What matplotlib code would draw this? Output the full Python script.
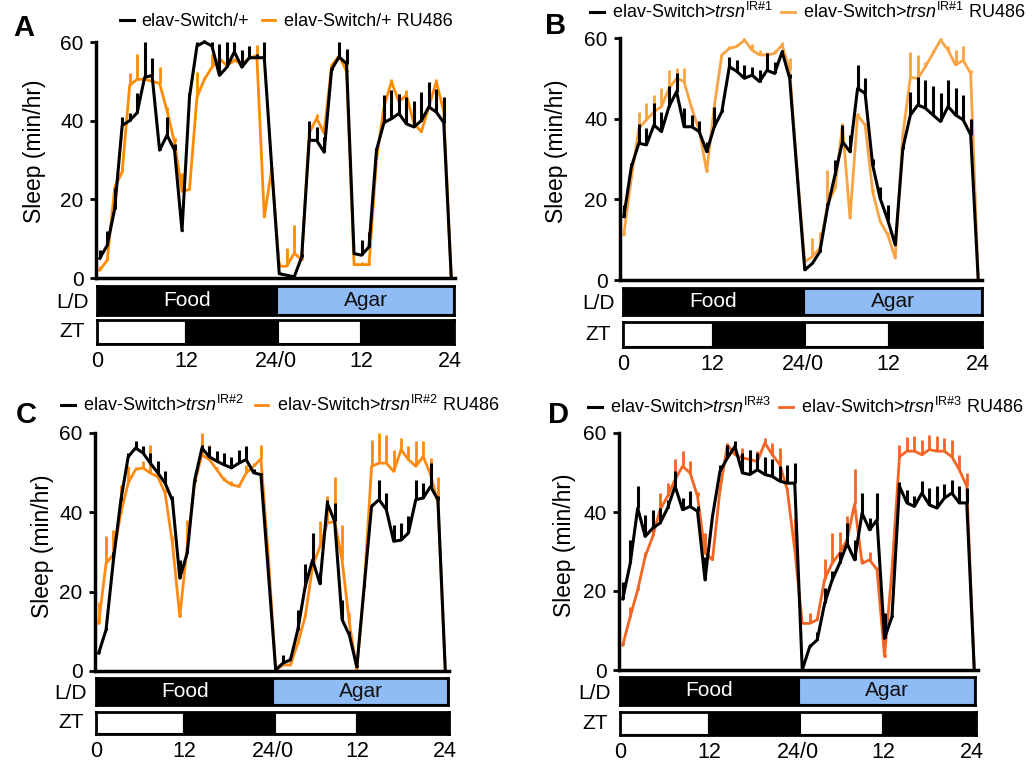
import numpy as np
import matplotlib

matplotlib.use('Agg')
import matplotlib.pyplot as plt

plt.rcParams['font.family'] = ['Liberation Sans', 'DejaVu Sans']
plt.rcParams['mathtext.fontset'] = 'custom'
plt.rcParams['mathtext.rm'] = 'Liberation Sans'
plt.rcParams['mathtext.it'] = 'Liberation Sans:italic'

# hourly bins over the 48 h recording (24 h food + 24 h agar)
hours = np.arange(48) + 0.5

# ---- panel A: elav-Switch/+ ----
a_ctrl = [5, 8.3, 17.6, 38.8, 40, 42, 51, 51.5, 32.5, 36.3, 32.5, 12, 46, 59, 60, 59, 51.5, 53.6, 57.5, 53.6, 56, 56, 56, 28,
          1.1, 0.7, 0.3, 5.3, 35, 35, 32, 53, 56.2, 54.5, 6.2, 5.8, 7.9, 32.5, 39.5, 40.5, 41.8, 39.2, 38.4, 40, 43.5, 42.2, 39.5, 0]
a_ctrl_hi = [7, 12, 23, 41, 42, 47, 60, 56, 33, 41, 34, 12.5, 47, 60, 60.5, 60, 59.6, 60, 60, 58, 59, 57, 60, 28,
             1.5, 1, 0.5, 6, 39.8, 38.4, 35.8, 53.5, 60, 58.3, 6.5, 9.6, 11.7, 33, 46.4, 47.7, 46.9, 46, 45, 47.3, 49.8, 48.1, 46, 0]
a_ru = [2, 4.5, 23, 27, 49, 50.5, 50.5, 50, 49.5, 42.5, 34.5, 22, 22.5, 46, 50.5, 53.6, 55.8, 54, 55.3, 54.5, 55.8, 56.6, 15.5, 27.8,
        3, 3, 6.3, 4.6, 36.8, 40.6, 36.8, 54, 56.5, 52.5, 3.4, 3.4, 3.4, 30, 43.5, 49.9, 44.8, 46.5, 39.3, 37.2, 43.5, 49.9, 42.3, 0]
a_ru_hi = [3, 5, 24, 28, 52, 57, 51, 51, 53.6, 43.5, 35.5, 26.6, 23, 52.4, 51, 57, 56, 56.5, 56, 55, 59, 59.3, 18.5, 28.3,
           4, 7.6, 13.5, 9.7, 37, 41.8, 38.9, 54.5, 57, 53, 4, 4, 4, 32.5, 44, 50.5, 46.9, 47.8, 40, 38, 44, 50.5, 43, 0]

# ---- panel B: elav-Switch>trsn IR#1 ----
b_ctrl = [15.7, 28, 33.9, 33.5, 38.4, 36.8, 43, 46.7, 38, 38, 36.8, 31.8, 38, 41.7, 52.9, 51.7, 50, 50.8, 49.2, 52, 51.2, 56.6, 50, 26,
          2.5, 4.1, 7, 17.8, 26, 34.3, 31.8, 47.5, 46.3, 28.5, 20.2, 14.9, 8.7, 32.6, 40.9, 43.4, 42.6, 40.9, 39.3, 43, 40.9, 39.7, 36, 0]
b_ctrl_hi = [18.6, 29, 38.8, 37.6, 43.8, 41.7, 48, 51.2, 42.6, 41, 39.3, 34.3, 43, 42.5, 55.4, 54.5, 53.3, 52.9, 52, 56.2, 54.1, 57, 51, 26,
             3, 4.5, 8, 19, 29.8, 38.4, 36, 53.3, 50, 30, 23, 18.6, 9.5, 33.5, 46.7, 50.4, 49.6, 48, 46.3, 49.6, 47.5, 45.9, 40, 0]
b_ru = [11.2, 25.2, 37.6, 39.7, 41.7, 43, 47.5, 50, 49.2, 42.6, 37.2, 26.9, 43, 55.8, 57.4, 57.9, 59.5, 57, 55.8, 55.8, 56.2, 58.3, 52, 27,
        4.5, 5.8, 7.9, 18.6, 22.7, 38.4, 15.3, 40.9, 38.4, 21.9, 14.5, 11.2, 5.4, 36, 50.2, 50, 52.9, 56.2, 59.5, 57, 53.3, 54.5, 51.2, 0]
b_ru_hi = [12, 26, 41.7, 43.8, 45.9, 47.5, 52, 52.5, 52.5, 43, 38, 27.5, 44, 56, 58, 58.5, 60, 58.5, 57, 56.5, 57, 59, 55, 28,
           5, 10.3, 12, 27.3, 26.9, 39, 16, 41.5, 39, 22.5, 15, 12, 6, 36.5, 56.6, 55.8, 54, 57, 60, 58, 57, 57.9, 52, 0]

# ---- panel C: elav-Switch>trsn IR#2 ----
c_ctrl = [4.5, 10.4, 28, 43, 54, 56.2, 55, 52.4, 50, 47.4, 43, 23.4, 29.7, 48, 56.2, 54, 52.9, 52, 51.2, 52.4, 53.3, 50, 49.5, 25,
          0.3, 2, 2.8, 10.4, 21.3, 28, 22, 42.3, 37.7, 13, 9, 1, 21.3, 41.5, 43.2, 40.7, 32.7, 33, 34.8, 43.2, 43.6, 46.5, 43.2, 0]
c_ctrl_hi = [5, 11, 30, 44, 55, 58, 56.6, 55, 53, 50.3, 44, 28, 31, 48.5, 57, 56.6, 55.4, 55, 54, 55.8, 56.6, 51, 50, 25,
             0.5, 4, 3.5, 15.4, 27, 34.8, 25, 43, 42.3, 18, 10, 1.5, 22, 42, 48.2, 44.9, 36.9, 37.3, 39, 48.2, 47.4, 52.4, 44, 0]
c_ru = [12, 27.2, 29.3, 39.8, 47.4, 50.8, 51.2, 49.9, 49, 44.9, 32.2, 13.7, 31.4, 47.4, 54.5, 53.3, 50.8, 48.2, 47, 46.5, 49.9, 51.6, 53.5, 28.9,
        0.3, 1.5, 1.5, 7, 13.7, 26.3, 31.4, 37.3, 37.7, 28, 12, 0.3, 21.3, 51.6, 52.4, 52.4, 50.3, 55.8, 53.3, 51.6, 54.1, 49.5, 42.3, 0]
c_ru_hi = [17.5, 34, 35.6, 47, 51.6, 51.5, 53, 57, 50, 46, 34, 14.5, 38, 49, 60, 57, 51.5, 49, 48, 47, 52, 52.5, 57, 29,
           0.5, 2.5, 2, 8, 14.6, 27, 37.7, 44, 49, 36.9, 14.6, 0.5, 23.8, 58.3, 60, 59.6, 55.8, 58.8, 56.6, 58, 58, 53.7, 49, 0]

# ---- panel D: elav-Switch>trsn IR#3 ----
d_ctrl = [18, 27, 41, 33.8, 35.9, 37.2, 41, 46.5, 40.6, 41.4, 40.2, 22.8, 38.9, 50.3, 53.7, 56.6, 49.9, 49.5, 50.7, 49.5, 49, 47.8, 47.3, 47.3,
          0, 5.9, 7.6, 16.9, 22.8, 27, 32, 27.9, 39.7, 35.5, 38, 8, 13.5, 46.5, 42.3, 41.4, 44.8, 41.8, 41, 43.5, 44.8, 42.3, 42.3, 0]
d_ctrl_hi = [22.4, 33, 46.5, 39.3, 40.6, 41, 43.1, 50.3, 43.5, 45.2, 41.4, 28.7, 39, 52, 57, 57.9, 55, 55.8, 55, 54, 53.3, 51.6, 52, 52.4,
             0, 6.5, 9.7, 20.7, 25, 30, 37.2, 33, 44.8, 38.5, 44.8, 14.4, 14, 47.5, 45.6, 44, 47.8, 46, 46.5, 47, 48.2, 46.5, 46, 0]
d_ru = [6.3, 13.5, 20.3, 28.7, 33.8, 40.6, 44, 48.2, 51.6, 49.9, 44, 29.6, 27.9, 45.6, 57, 54.5, 53.7, 53.3, 52.8, 57.5, 54.5, 52, 45.6, 30.4,
        11.8, 11.8, 12.7, 23, 27, 29.6, 33, 42, 27, 27.9, 25.4, 3.4, 25.4, 54, 55.4, 55.4, 54.5, 55.8, 55.4, 55.4, 54, 50.7, 46.5, 0]
d_ru_hi = [7, 16, 21, 30, 36, 44.8, 47.3, 53.3, 55.4, 52.8, 45, 34.7, 28.5, 46, 57.5, 57, 56.2, 55.8, 55.4, 58.8, 57.5, 56.2, 46, 38.5,
           12, 14.4, 13.5, 28, 34.7, 35, 39, 51, 28, 30, 26, 4, 26, 57, 59, 59.2, 58.3, 59.6, 59.2, 58.8, 58.3, 54.5, 49.9, 0]

# condition bars under each trace
ld_starts = [0, 24.2]
ld_widths = [24.2, 23.8]
ld_colors = ['black', '#8fbcf4']
ld_labels = ['Food', 'Agar']
ld_text_colors = ['white', '#111111']
zt_starts = [0, 12, 24.3, 35.5]
zt_widths = [12, 12.3, 11.2, 12.5]
zt_colors = ['white', 'black', 'white', 'black']
zt_ticks = [0, 12, 24, 35.5, 47.5]
zt_ticklabels = ['0', '12', '24/0', '12', '24']

W, H = 1033, 765


def rect(l, t, r, b):
    return [l / W, 1 - b / H, (r - l) / W, (b - t) / H]


panels = [
    dict(letter='A', ctrl=a_ctrl, ctrl_hi=a_ctrl_hi, ru=a_ru, ru_hi=a_ru_hi, ru_color='#ff8c00',
         labels=['elav-Switch/+', 'elav-Switch/+ RU486'],
         main=(96, 42, 455, 278), ld=(97, 286, 454, 315), zt=(97, 320, 454, 344),
         letter_xy=(24, 28), ylab_xy=(35, 151), leg_xy=(120, 22), colsp=0.7),
    dict(letter='B', ctrl=b_ctrl, ctrl_hi=b_ctrl_hi, ru=b_ru, ru_hi=b_ru_hi, ru_color='#f8a445',
         labels=[r'elav-Switch>$\it{trsn}^{\rm IR\#1}$', r'elav-Switch>$\it{trsn}^{\rm IR\#1}$ RU486'],
         main=(620, 38, 982, 280), ld=(623, 288, 982, 315), zt=(623, 322, 982, 347),
         letter_xy=(556, 26), ylab_xy=(557, 151), leg_xy=(590, 12), colsp=0.45),
    dict(letter='C', ctrl=c_ctrl, ctrl_hi=c_ctrl_hi, ru=c_ru, ru_hi=c_ru_hi, ru_color='#ff8a12',
         labels=[r'elav-Switch>$\it{trsn}^{\rm IR\#2}$', r'elav-Switch>$\it{trsn}^{\rm IR\#2}$ RU486'],
         main=(95, 433, 449, 671), ld=(96, 678, 448, 705), zt=(96, 712, 449, 734),
         letter_xy=(26, 415), ylab_xy=(42, 546), leg_xy=(61, 405), colsp=0.6),
    dict(letter='D', ctrl=d_ctrl, ctrl_hi=d_ctrl_hi, ru=d_ru, ru_hi=d_ru_hi, ru_color='#f26522',
         labels=[r'elav-Switch>$\it{trsn}^{\rm IR\#3}$', r'elav-Switch>$\it{trsn}^{\rm IR\#3}$ RU486'],
         main=(619, 433, 978, 670), ld=(620, 677, 975, 705), zt=(620, 712, 976, 735),
         letter_xy=(558, 415), ylab_xy=(564, 545), leg_xy=(588, 407), colsp=0.45),
]

fig = plt.figure(figsize=(W / 100, H / 100), dpi=100)

for p in panels:
    ax = fig.add_axes(rect(*p['main']))
    ru = np.array(p['ru'])
    ctrl = np.array(p['ctrl'])
    # RU486 first so the control trace sits on top, SEM drawn upward only
    ax.vlines(hours, ru, np.maximum(np.array(p['ru_hi']), ru), colors=p['ru_color'], lw=2.0, clip_on=False)
    l_ru, = ax.plot(hours, ru, color=p['ru_color'], lw=2.0, clip_on=False)
    ax.vlines(hours, ctrl, np.maximum(np.array(p['ctrl_hi']), ctrl), colors='black', lw=2.2, clip_on=False)
    l_ctrl, = ax.plot(hours, ctrl, color='black', lw=2.2, clip_on=False)
    ax.set_xlim(0, 48)
    ax.set_ylim(0, 60)
    ax.set_yticks([0, 20, 40, 60])
    ax.set_xticks([])
    for s in ['top', 'right']:
        ax.spines[s].set_visible(False)
    for s in ['left', 'bottom']:
        ax.spines[s].set_linewidth(2.5)
    ax.tick_params(axis='y', direction='out', length=4, width=2, labelsize=15, pad=5)

    fig.text(p['ylab_xy'][0] / W, 1 - p['ylab_xy'][1] / H, 'Sleep (min/hr)', rotation=90,
             ha='center', va='center', fontsize=16.5)
    fig.text(p['letter_xy'][0] / W, 1 - p['letter_xy'][1] / H, p['letter'], ha='center', va='center',
             fontsize=21, fontweight='bold')

    fig.legend([l_ctrl, l_ru], p['labels'], loc='center left',
               bbox_to_anchor=(p['leg_xy'][0] / W, 1 - p['leg_xy'][1] / H), bbox_transform=fig.transFigure,
               ncol=2, frameon=False, fontsize=13, handlelength=0.75, handletextpad=0.45,
               columnspacing=p['colsp'], borderpad=0, borderaxespad=0)

    # light/dark + food/agar bars
    ax_ld = fig.add_axes(rect(*p['ld']))
    ax_ld.barh(0.5, ld_widths, left=ld_starts, height=1, color=ld_colors, edgecolor='black', lw=1.5)
    for x0, w, lab, tc in zip(ld_starts, ld_widths, ld_labels, ld_text_colors):
        ax_ld.text(x0 + w / 2, 0.5, lab, color=tc, ha='center', va='center', fontsize=15)
    ax_ld.set_xlim(0, 48)
    ax_ld.set_ylim(0, 1)
    ax_ld.set_xticks([])
    ax_ld.set_yticks([])
    for s in ax_ld.spines.values():
        s.set_linewidth(2)
    ld_w = p['ld'][2] - p['ld'][0]
    ax_ld.text(-25 / ld_w, 0.42, 'L/D', transform=ax_ld.transAxes, ha='center', va='center', fontsize=15)

    ax_zt = fig.add_axes(rect(*p['zt']))
    ax_zt.barh(0.5, zt_widths, left=zt_starts, height=1, color=zt_colors, edgecolor='black', lw=1.5)
    ax_zt.set_xlim(0, 48)
    ax_zt.set_ylim(0, 1)
    ax_zt.set_yticks([])
    ax_zt.set_xticks(zt_ticks)
    ax_zt.set_xticklabels(zt_ticklabels)
    ax_zt.tick_params(axis='x', length=0, labelsize=15.5, pad=5)
    for s in ax_zt.spines.values():
        s.set_linewidth(2)
    ax_zt.text(-25 / ld_w, 0.5, 'ZT', transform=ax_zt.transAxes, ha='center', va='center', fontsize=15)

fig.savefig('out.png', dpi=100)
plt.close()
